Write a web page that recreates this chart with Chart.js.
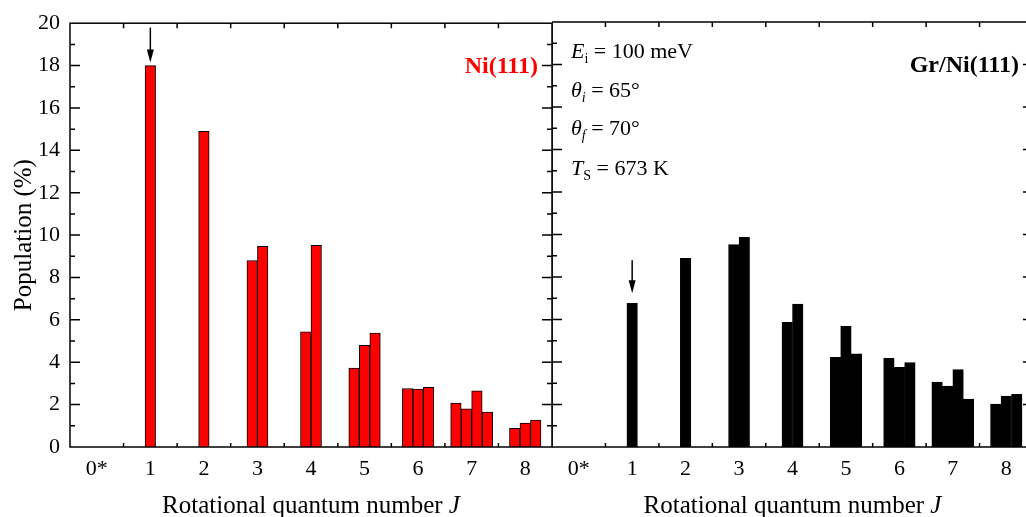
<!DOCTYPE html>
<html>
<head>
<meta charset="utf-8">
<script src="https://cdn.jsdelivr.net/npm/chart.js@4.4.0/dist/chart.umd.min.js"></script>
<style>
  html, body { margin: 0; padding: 0; background: #fff; overflow: hidden; }
  #wrap { position: relative; width: 1026px; height: 517px; overflow: hidden; }
  #niChart { position: absolute; left: 0; top: 0; }
  #grChart { position: absolute; left: 552px; top: 0; }
</style>
</head>
<body>
<div id="wrap">
  <canvas id="niChart" width="560" height="517"></canvas>
  <canvas id="grChart" width="490" height="517"></canvas>
</div>
<script>
// rotational levels J (0* not measured)
var jLabels = ['0*', '1', '2', '3', '4', '5', '6', '7', '8'];

// population (%) of the sub-levels of each J
var niPop = [[], [18.0], [14.9], [8.8, 9.47], [5.43, 9.52], [3.72, 4.8, 5.38], [2.76, 2.73, 2.82], [2.07, 1.8, 2.65, 1.65], [0.88, 1.13, 1.27]];
var grPop = [[], [6.76], [8.88], [9.52, 9.87], [5.87, 6.73], [4.22, 5.68, 4.39], [4.17, 3.75, 3.97], [3.06, 2.87, 3.64, 2.26], [2.02, 2.4, 2.48]];

var yMin = 0, yMax = 20, yStep = 2;

var serif = '"Liberation Serif", "Times New Roman", serif';

// one dataset per sub-level, nulls are skipped so bars stay centred on J
function makeSets(pop, color) {
    var n = 0;
    pop.forEach(function (p) { n = Math.max(n, p.length); });
    var sets = [];
    for (var k = 0; k < n; k++) {
        sets.push({
            data: pop.map(function (p) { return p[k] === undefined ? null : p[k]; }),
            backgroundColor: color,
            borderColor: '#000',
            borderWidth: 1,
            barThickness: 10.5,
            skipNull: true
        });
    }
    return sets;
}

// text with italic / subscript pieces
function drawRich(ctx, parts, x, y) {
    parts.forEach(function (p) {
        var size = p.sub ? 14 : 22;
        ctx.font = (p.it ? 'italic ' : '') + size + 'px ' + serif;
        ctx.fillText(p.t, x, p.sub ? y + 5 : y);
        x += ctx.measureText(p.t).width;
    });
}

var panelPlugin = {
    id: 'panel',
    afterDatasetsDraw: function (chart, args, opts) {
        var ctx = chart.ctx, a = chart.chartArea;
        var xs = chart.scales.x, ys = chart.scales.y;
        ctx.save();
        ctx.strokeStyle = '#000';
        ctx.fillStyle = '#000';
        ctx.lineWidth = 1.5;
        ctx.strokeRect(a.left, a.top, a.right - a.left, a.bottom - a.top);

        // inward ticks
        ctx.beginPath();
        for (var v = yMin + 1; v < yMax; v++) {
            var y = ys.getPixelForValue(v);
            var len = v % yStep === 0 ? 10 : 5;
            ctx.moveTo(a.left, y); ctx.lineTo(a.left + len, y);
            ctx.moveTo(a.right, y); ctx.lineTo(a.right - len, y);
        }
        for (var i = 0; i < jLabels.length - 1; i++) {
            var x = (xs.getPixelForValue(i) + xs.getPixelForValue(i + 1)) / 2;
            ctx.moveTo(x, a.bottom); ctx.lineTo(x, a.bottom - 4);
            ctx.moveTo(x, a.top); ctx.lineTo(x, a.top + 5);
        }
        ctx.stroke();

        // arrow over the J=1 bar
        var bar = chart.getDatasetMeta(0).data[1];
        var tip = bar.y - opts.arrowGap;
        ctx.lineWidth = 1.5;
        ctx.beginPath();
        ctx.moveTo(bar.x, tip - opts.arrowLen);
        ctx.lineTo(bar.x, tip - 10);
        ctx.stroke();
        ctx.beginPath();
        ctx.moveTo(bar.x, tip);
        ctx.lineTo(bar.x - 3.5, tip - 13);
        ctx.lineTo(bar.x + 3.5, tip - 13);
        ctx.closePath();
        ctx.fill();

        // panel name
        ctx.font = 'bold 24px ' + serif;
        ctx.fillStyle = opts.labelColor;
        ctx.textAlign = 'right';
        ctx.textBaseline = 'middle';
        ctx.fillText(opts.label, a.right - 14, ys.getPixelForValue(18) + 1);

        // axis title
        ctx.fillStyle = '#000';
        ctx.textBaseline = 'alphabetic';
        ctx.textAlign = 'left';
        ctx.font = '25px ' + serif;
        var t1 = 'Rotational quantum number ';
        var w1 = ctx.measureText(t1).width;
        ctx.font = 'italic 25px ' + serif;
        var w2 = ctx.measureText('J').width;
        var tx = (a.left + a.right) / 2 - (w1 + w2) / 2;
        ctx.font = '25px ' + serif;
        ctx.fillText(t1, tx, 513);
        ctx.font = 'italic 25px ' + serif;
        ctx.fillText('J', tx + w1, 513);

        if (opts.yTitle) {
            ctx.save();
            ctx.translate(31, (a.top + a.bottom) / 2);
            ctx.rotate(-Math.PI / 2);
            ctx.textAlign = 'center';
            ctx.font = '25px ' + serif;
            ctx.fillText(opts.yTitle, 0, 0);
            ctx.restore();
        }

        if (opts.params) {
            ctx.textAlign = 'left';
            opts.params.forEach(function (line, k) {
                drawRich(ctx, line, a.left + 19, a.top + [36, 75, 113, 153][k]);
            });
        }
        ctx.restore();
    }
};

function makeOptions(showY, padRight, panelOpts) {
    return {
        responsive: false,
        animation: false,
        layout: { padding: { top: 22, right: padRight, left: 0, bottom: 0 } },
        plugins: {
            legend: { display: false },
            tooltip: { enabled: false },
            panel: panelOpts
        },
        scales: {
            x: {
                grid: { display: false, drawTicks: false },
                border: { display: false },
                ticks: { color: '#000', font: { family: serif, size: 22 }, padding: 9, autoSkip: false, maxRotation: 0 },
                afterFit: function (s) { s.height = 70; }
            },
            y: {
                display: showY,
                min: yMin,
                max: yMax,
                grid: { display: false, drawTicks: false },
                border: { display: false },
                ticks: { stepSize: yStep, color: '#000', font: { family: serif, size: 22 }, padding: 10 },
                afterFit: function (s) { s.width = showY ? 70 : 0; }
            }
        }
    };
}

new Chart(document.getElementById('niChart').getContext('2d'), {
    type: 'bar',
    data: { labels: jLabels, datasets: makeSets(niPop, '#ff0000') },
    options: makeOptions(true, 8, {
        label: 'Ni(111)', labelColor: '#ff0000', arrowGap: 3, arrowLen: 35,
        yTitle: 'Population (%)'
    }),
    plugins: [panelPlugin]
});

new Chart(document.getElementById('grChart').getContext('2d'), {
    type: 'bar',
    data: { labels: jLabels, datasets: makeSets(grPop, '#000000') },
    options: makeOptions(false, 9, {
        label: 'Gr/Ni(111)', labelColor: '#000', arrowGap: 10, arrowLen: 33,
        params: [
            [{ t: 'E', it: true }, { t: 'i', sub: true }, { t: ' = 100 meV' }],
            [{ t: 'θ', it: true }, { t: 'i', sub: true, it: true }, { t: ' = 65°' }],
            [{ t: 'θ', it: true }, { t: 'f', sub: true, it: true }, { t: ' = 70°' }],
            [{ t: 'T', it: true }, { t: 'S', sub: true }, { t: ' = 673 K' }]
        ]
    }),
    plugins: [panelPlugin]
});
</script>
</body>
</html>
